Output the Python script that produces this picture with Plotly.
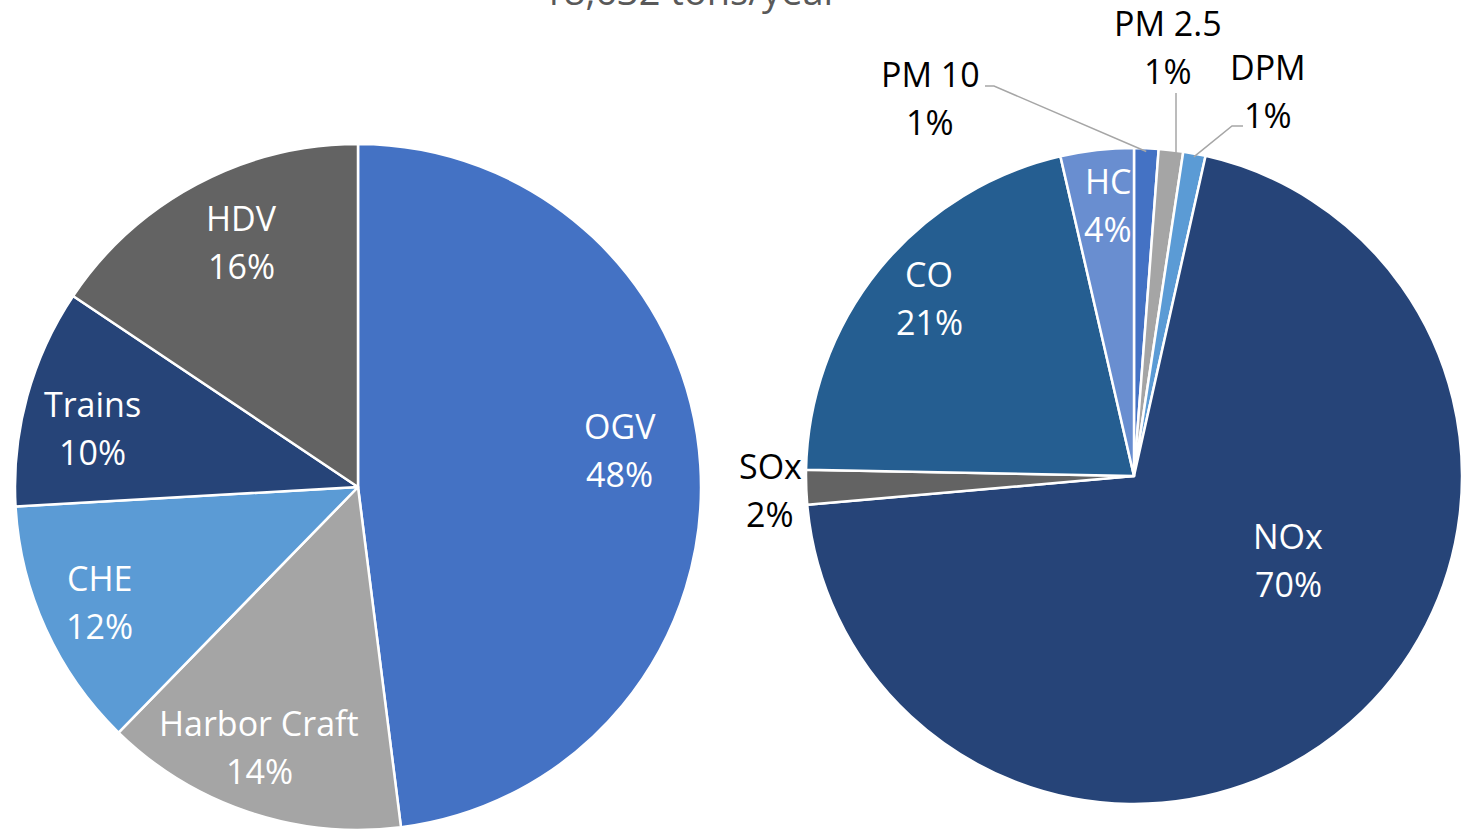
import math
import plotly.graph_objects as go

# ---------------- data ----------------
title_text = "18,632 tons/year"

src_labels = ["OGV", "Harbor Craft", "CHE", "Trains", "HDV"]
src_values = [48.0, 14.3, 11.8, 10.3, 15.6]

pol_labels = ["PM 10", "PM 2.5", "DPM", "NOx", "SOx", "CO", "HC"]
pol_values = [1.2, 1.2, 1.1, 70.1, 1.7, 21.1, 3.6]

# ---------------- style ----------------
W, H = 1462, 830
FONT = "Open Sans"
FS = 34
LINE_GAP = 48
src_colors = ["#4472C4", "#A5A5A5", "#5B9BD5", "#264478", "#636363"]
pol_colors = ["#4472C4", "#A5A5A5", "#5B9BD5", "#264478", "#636363", "#255E91", "#698ED0"]

left_dom_px = (15, 701, 0, 686)        # x0, x1, bottom, top (pixels from bottom)
right_dom_px = (806, 1462, 23, 685)

# inside label placement: (fraction of radius, angle clockwise from 12 o'clock)
left_label_pos = {"OGV": (0.771, 82.0), "Harbor Craft": (0.811, 200.8), "CHE": (0.824, 246.0),
                  "Trains": (0.794, 282.5), "HDV": (0.792, 334.5)}
right_label_pos = {"NOx": (0.535, 118.6), "CO": (0.828, 311.0), "HC": (0.83, 354.5)}
outside = {
    "PM 10": dict(text=(930, 98), line=[(985, 86), (994, 86)]),
    "PM 2.5": dict(text=(1168, 47), line=[(1176, 93)]),
    "DPM": dict(text=(1268, 91), line=[(1243, 126), (1232, 126)]),
    "SOx": dict(text=(770, 490), line=None),
}

def dom(px):
    x0, x1, b, t = px
    return dict(x=[x0 / W, x1 / W], y=[b / H, t / H])

def geom(px):
    x0, x1, b, t = px
    w, h = x1 - x0, t - b
    r = min(w, h) / 2
    cx = (x0 + x1) / 2
    cy = H - (b + t) / 2  # from top
    return cx, cy, r

def mid_angles(values):
    tot = sum(values)
    out, acc = [], 0.0
    for v in values:
        out.append((acc + v / 2) / tot * 360)
        acc += v
    return out

def polar(cx, cy, r, f, ang):
    a = math.radians(ang)
    return cx + f * r * math.sin(a), cy - f * r * math.cos(a)

def pct(values, i):
    return f"{round(values[i] / sum(values) * 100)}%"

fig = go.Figure()
fig.add_trace(go.Pie(
    labels=src_labels, values=src_values, sort=False, direction="clockwise",
    rotation=0, domain=dom(left_dom_px), textinfo="none",
    marker=dict(colors=src_colors, line=dict(color="white", width=2.5)),
    showlegend=False, hoverinfo="label+percent"))
fig.add_trace(go.Pie(
    labels=pol_labels, values=pol_values, sort=False, direction="clockwise",
    rotation=0, domain=dom(right_dom_px), textinfo="none",
    marker=dict(colors=pol_colors, line=dict(color="white", width=2.5)),
    showlegend=False, hoverinfo="label+percent"))

annots = []
shapes = []

def add_text(x, y, line1, line2, color):
    for txt, dy in ((line1, -LINE_GAP / 2), (line2, LINE_GAP / 2)):
        annots.append(dict(x=x / W, y=1 - (y + dy) / H, xref="paper", yref="paper",
                           text=txt, showarrow=False, xanchor="center", yanchor="middle",
                           font=dict(family=FONT, size=FS, color=color)))

# left pie labels
cx, cy, r = geom(left_dom_px)
for i, lab in enumerate(src_labels):
    f, a = left_label_pos[lab]
    x, y = polar(cx, cy, r, f, a)
    add_text(x, y, lab, pct(src_values, i), "white")

# right pie labels
cx2, cy2, r2 = geom(right_dom_px)
mids2 = mid_angles(pol_values)
for i, lab in enumerate(pol_labels):
    if lab in right_label_pos:
        f, a = right_label_pos[lab]
        x, y = polar(cx2, cy2, r2, f, a)
        add_text(x, y, lab, pct(pol_values, i), "white")

for i, lab in enumerate(pol_labels):
    if lab in outside:
        o = outside[lab]
        add_text(*o["text"], lab, pct(pol_values, i), "black")
        if o["line"]:
            ex, ey = polar(cx2, cy2, r2, 0.99, mids2[i])
            pts = o["line"] + [(ex, ey)]
            if lab == "PM 2.5":
                pts = [(pts[0][0], pts[0][1]), (pts[0][0], ey)]
            path = "M " + " L ".join(f"{px / W},{1 - py / H}" for px, py in pts)
            shapes.append(dict(type="path", path=path, xref="paper", yref="paper",
                               line=dict(color="#A6A6A6", width=1.5)))

# title (mostly above the visible area)
annots.append(dict(x=690 / W, y=1 - 18 / H, xref="paper", yref="paper", text=title_text,
                   showarrow=False, xanchor="center", yanchor="bottom",
                   font=dict(family=FONT, size=38, color="#595959")))

fig.update_layout(
    width=W, height=H, margin=dict(l=0, r=0, t=0, b=0),
    paper_bgcolor="white", plot_bgcolor="white",
    annotations=annots, shapes=shapes,
)
fig.write_html("out.html", config={"displayModeBar": False},
               post_script="document.body.style.margin='0';")
